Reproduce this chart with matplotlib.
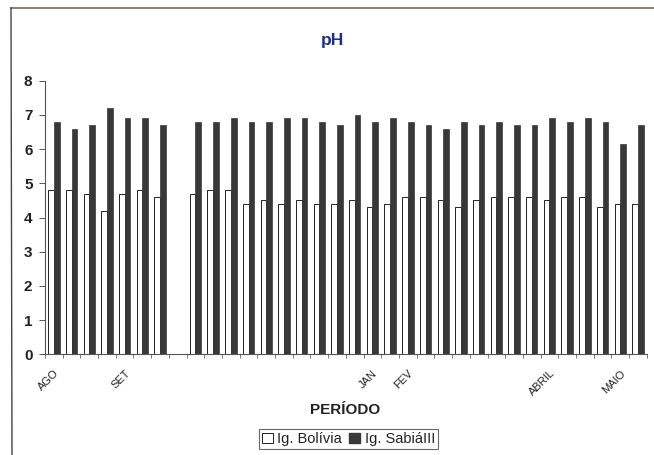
import numpy as np
import matplotlib.pyplot as plt
from matplotlib.lines import Line2D
from matplotlib.patches import Patch

plt.rcParams['font.family'] = ['Liberation Sans', 'DejaVu Sans']

# pH por coleta (a posição 7 não teve coleta)
bolivia = [4.8, 4.8, 4.7, 4.2, 4.7, 4.8, 4.6, None,
           4.7, 4.8, 4.8, 4.4, 4.5, 4.4, 4.5, 4.4, 4.4, 4.5, 4.3, 4.4,
           4.6, 4.6, 4.5, 4.3, 4.5, 4.6, 4.6, 4.6, 4.5, 4.6, 4.6, 4.3, 4.4, 4.4]
sabia = [6.8, 6.6, 6.7, 7.2, 6.9, 6.9, 6.7, None,
         6.8, 6.8, 6.9, 6.8, 6.8, 6.9, 6.9, 6.8, 6.7, 7.0, 6.8, 6.9,
         6.8, 6.7, 6.6, 6.8, 6.7, 6.8, 6.7, 6.7, 6.9, 6.8, 6.9, 6.8, 6.15, 6.7]
periodos = ['AGO', '', '', '', 'SET', '', '', '',
            '', '', '', '', '', '', '', '', '', '', 'JAN', '', 'FEV',
            '', '', '', '', '', '', '', 'ABRIL', '', '', '', 'MAIO', '']

b = np.array([np.nan if v is None else v for v in bolivia])
s = np.array([np.nan if v is None else v for v in sabia])
x = np.arange(len(periodos))
w = 0.32

fig = plt.figure(figsize=(6.54, 4.55), dpi=100)
fig.patch.set_facecolor('white')
ax = fig.add_axes([0.0688, 0.2213, 0.9202, 0.6013])

ok = ~np.isnan(b)
ax.bar(x[ok] - w / 2, b[ok], w, color='white', edgecolor='#222222', linewidth=0.7)
ok = ~np.isnan(s)
ax.bar(x[ok] + w / 2, s[ok], w, color='#383838', edgecolor='#383838', linewidth=0.5)

ax.set_xlim(-0.5, len(periodos) - 0.5)
ax.set_ylim(0, 8)
ax.set_yticks(range(0, 9))
ax.tick_params(axis='y', direction='out', length=4, width=0.7, colors='#555555',
               labelcolor='#222222', labelsize=11, pad=5)
for t in ax.get_yticklabels():
    t.set_fontweight('bold')

ax.set_xticks(x)
ax.set_xticklabels(periodos, rotation=45, ha='right', va='top',
                   rotation_mode='anchor', fontsize=8, color='#222222')
ax.tick_params(axis='x', which='major', length=0, pad=10)
ax.set_xticks(np.arange(-0.5, len(periodos)), minor=True)
ax.tick_params(axis='x', which='minor', direction='out', length=3, width=0.6,
               color='#666666')

for side in ['top', 'right']:
    ax.spines[side].set_visible(False)
for side in ['bottom', 'left']:
    ax.spines[side].set_color('#555555')
    ax.spines[side].set_linewidth(0.8)

fig.text(0.509, 0.912, 'pH', ha='center', va='center', fontsize=12.5,
         fontweight='bold', color='#1c2f8a')
fig.text(0.528, 0.099, 'PERÍODO', ha='center', va='center', fontsize=11,
         fontweight='bold', color='#222222')

handles = [Patch(facecolor='white', edgecolor='#222222', linewidth=0.7),
           Patch(facecolor='#383838', edgecolor='#383838')]
leg = fig.legend(handles, ['Ig. Bolívia', 'Ig. SabiáIII'], loc='center',
                 bbox_to_anchor=(0.533, 0.035), ncol=2, fontsize=10.5,
                 frameon=True, fancybox=False, handlelength=0.75,
                 handleheight=0.75, handletextpad=0.3, columnspacing=0.5,
                 borderpad=0.2, labelcolor='#222222')
leg.get_frame().set_edgecolor('#444444')
leg.get_frame().set_linewidth(0.8)

# moldura da área do gráfico
fig.add_artist(Line2D([11 / 654, 1.0], [1 - 8 / 455, 1 - 8 / 455],
                      color='#7a6a55', linewidth=1.2))
fig.add_artist(Line2D([11 / 654, 12 / 654], [1 - 8 / 455, 0.0],
                      color='#444444', linewidth=1.0))

fig.savefig('out.png', dpi=100)
